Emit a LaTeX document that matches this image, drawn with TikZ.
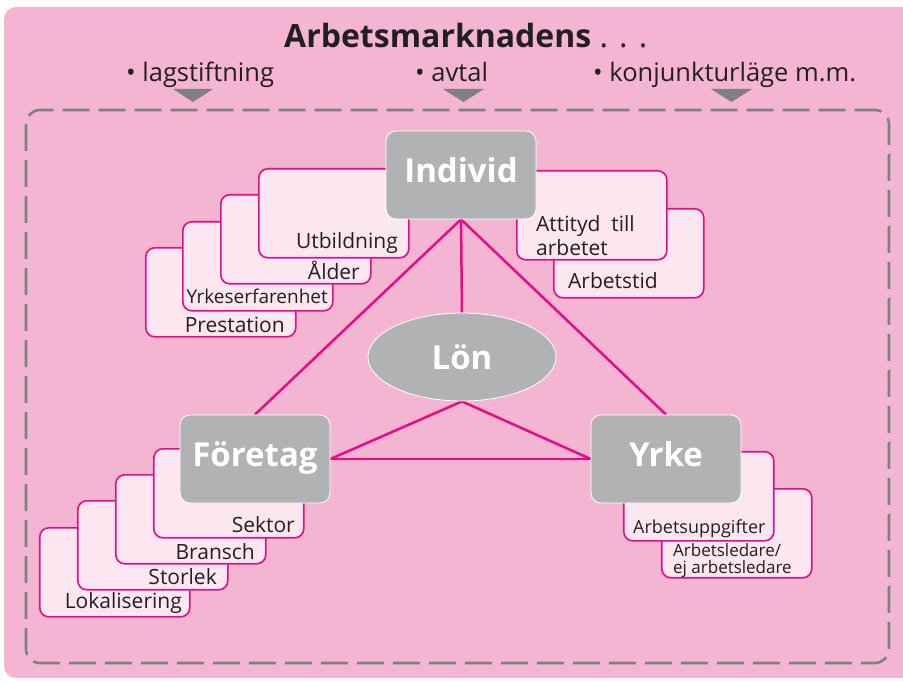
\documentclass[tikz,border=0pt]{standalone}
\usepackage{fontspec}
\setmainfont{Open Sans}
\usetikzlibrary{shapes.geometric}
\pgfdeclarelayer{back}
\pgfdeclarelayer{lines}
\pgfsetlayers{back,lines,main}
\definecolor{bgpink}{RGB}{244,181,211}
\definecolor{cardpink}{RGB}{252,231,241}
\definecolor{magline}{RGB}{232,10,135}
\definecolor{boxgray}{RGB}{177,178,180}
\definecolor{dashgray}{RGB}{128,128,130}
\definecolor{txt}{RGB}{35,31,32}
\tikzset{
  card/.style={draw=magline, line width=1.6pt, fill=cardpink, rounded corners=9pt,
    minimum width=150pt, minimum height=89pt, inner sep=0pt, anchor=north west},
  cardtext/.style={font=\fontsize{21}{23}\selectfont, text=txt, inner sep=0pt},
  smalltext/.style={font=\fontsize{18}{17}\selectfont, text=txt, inner sep=0pt},
  mainbox/.style={fill=boxgray, draw=white, line width=0.8pt, rounded corners=10pt,
    minimum width=150pt, minimum height=88pt, text=white, text depth=10pt,
    font=\bfseries\fontsize{33}{35}\selectfont},
  link/.style={draw=magline, line width=2.5pt},
  marker/.style={fill=dashgray},
  headtext/.style={font=\fontsize{25.5}{27}\selectfont, text=txt, inner sep=0pt, anchor=base west},
}
\begin{document}
\begin{tikzpicture}[x=1pt, y=-1pt]
\useasboundingbox (0,0) rectangle (903,682);
\clip (0,0) rectangle (903,682);
\begin{pgfonlayer}{back}
\fill[bgpink, rounded corners=12pt] (4,7) rectangle (940,678);
\draw[dashgray, line width=2.6pt, rounded corners=14pt, dash pattern=on 27pt off 9pt] (26,110) rectangle (889,663);
\end{pgfonlayer}
% heading
\node[inner sep=0pt, anchor=base west, text=txt, font=\fontsize{32}{34}\selectfont] (title) at (284,48) {\bfseries Arbetsmarknadens\mdseries\ . . .};
\node[headtext] (b1) at (126,82) {• lagstiftning};
\node[headtext] (b2) at (415,82) {• avtal};
\node[headtext] (b3) at (593,82) {• konjunkturläge m.m.};
\fill[marker] (173,89) -- (213,89) -- (193,102) -- cycle;
\fill[marker] (443,89) -- (484,89) -- (463.5,102) -- cycle;
\fill[marker] (711,89) -- (752,89) -- (731.5,102) -- cycle;
% Individ cards
\node[card] (c4) at (145,247) {};
\node[card] (c3) at (182,221) {};
\node[card] (c2) at (220,194) {};
\node[card] (c1) at (258,168) {};
\node[cardtext, anchor=base east] at (398,248) {Utbildning};
\node[cardtext, anchor=base east] at (360,279) {Ålder};
\node[cardtext, anchor=base east, font=\fontsize{19}{21}\selectfont] at (328,303) {Yrkeserfarenhet};
\node[cardtext, anchor=base east] at (285,332) {Prestation};
\node[card] (r2) at (553,208) {};
\node[card] (r1) at (516,170) {};
\node[cardtext, anchor=base west] at (536,231) {Attityd\ \ till};
\node[cardtext, anchor=base west] at (536,255) {arbetet};
\node[cardtext, anchor=base west] at (568,288) {Arbetstid};
% Foretag cards
\node[card] (f4) at (39,527) {};
\node[card] (f3) at (77,500) {};
\node[card] (f2) at (115,474) {};
\node[card] (f1) at (153,448) {};
\node[cardtext, anchor=base east] at (295,532) {Sektor};
\node[cardtext, anchor=base east] at (255,559) {Bransch};
\node[cardtext, anchor=base east] at (217,584) {Storlek};
\node[cardtext, anchor=base east] at (182,608) {Lokalisering};
% Yrke cards
\node[card] (y2) at (661,488) {};
\node[card] (y1) at (623,451) {};
\node[smalltext, anchor=base west] at (633,533) {Arbetsuppgifter};
\node[smalltext, anchor=north west, align=left, font=\fontsize{17}{17}\selectfont] at (673,543) {Arbetsledare/\\ej arbetsledare};
% main nodes
\node[mainbox] (ind) at (461,175) {Individ};
\node[mainbox] (fore) at (255,459) {Företag};
\node[mainbox] (yrke) at (666,459) {Yrke};
\node[ellipse, fill=boxgray, draw=white, line width=0.8pt, minimum width=188pt, minimum height=88pt,
  inner sep=0pt, text=white, font=\bfseries\fontsize{33}{35}\selectfont] (lon) at (462,357) {Lön};
% connectors
\begin{pgfonlayer}{lines}
\draw[link] (ind.south) -- (lon.north);
\draw[link] (ind.south) -- (fore.north);
\draw[link] (ind.south) -- (yrke.north);
\draw[link] (lon.south) -- (fore.east);
\draw[link] (lon.south) -- (yrke.west);
\draw[link] (fore.east) -- (yrke.west);
\end{pgfonlayer}
\end{tikzpicture}
\end{document}
